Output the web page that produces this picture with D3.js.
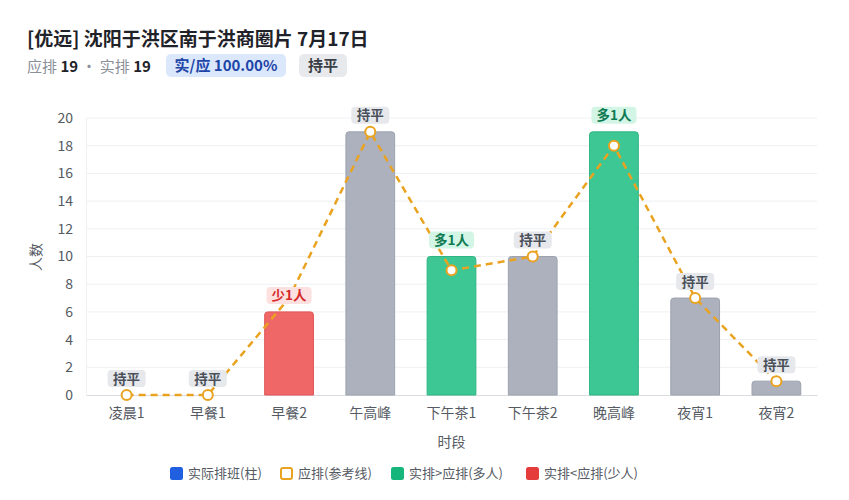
<!DOCTYPE html>
<html><head><meta charset="utf-8">
<script src="https://cdn.jsdelivr.net/npm/d3@7"></script>
<style>
body{margin:0;background:#fff;font-family:"Noto Sans CJK SC","Noto Sans",sans-serif;}
</style></head>
<body><svg id="c" width="849" height="500"></svg>
<script>
const categories = ["凌晨1","早餐1","早餐2","午高峰","下午茶1","下午茶2","晚高峰","夜宵1","夜宵2"];
const actual = [0,0,6,19,10,10,19,7,1];
const planned = [0,0,7,19,9,10,18,7,1];
const yTicks = [0,2,4,6,8,10,12,14,16,18,20];
const legendItems = ["实际排班(柱)","应排(参考线)","实排>应排(多人)","实排<应排(少人)"];
const summaryPlanned = 19;
const summaryActual = 19;

const svg = d3.select("#c");
const F = '"Noto Sans CJK SC","Noto Sans",sans-serif';
const m = {l:86, r:817, t:118, b:395};
const x = d3.scaleBand().domain(categories).range([m.l, m.r]).paddingInner(0.4).paddingOuter(0.2);
const y = d3.scaleLinear().domain([0,20]).range([m.b, m.t]);

// title
svg.append("text").attr("x",27).attr("y",46).attr("font-family",F).attr("font-size",19).attr("font-weight",700).attr("fill","#1f2329").text("[优远] 沈阳于洪区南于洪商圈片 7月17日");
const sub = svg.append("text").attr("x",27).attr("y",72).attr("font-family",F).attr("font-size",15);
sub.append("tspan").attr("fill","#8a8f99").text("应排 ");
sub.append("tspan").attr("fill","#1f2329").attr("font-weight",700).text(summaryPlanned);
sub.append("tspan").attr("fill","#8a8f99").text(" · 实排 ");
sub.append("tspan").attr("fill","#1f2329").attr("font-weight",700).text(summaryActual);
const ratio = (summaryActual/summaryPlanned*100).toFixed(2);
svg.append("rect").attr("x",166).attr("y",54).attr("width",120).attr("height",23).attr("rx",5).attr("fill","#dbe8fb");
svg.append("text").attr("x",226).attr("y",71).attr("text-anchor","middle").attr("font-family",F).attr("font-size",15).attr("font-weight",700).attr("fill","#1e45a8").text("实/应 "+ratio+"%");
svg.append("rect").attr("x",299).attr("y",54).attr("width",48).attr("height",23).attr("rx",5).attr("fill","#e8e9ec");
svg.append("text").attr("x",323).attr("y",71).attr("text-anchor","middle").attr("font-family",F).attr("font-size",15).attr("font-weight",700).attr("fill","#3a3f47").text("持平");

// grid
svg.append("g").selectAll("line").data(yTicks.slice(1)).join("line")
  .attr("x1",m.l).attr("x2",m.r).attr("y1",d=>y(d)).attr("y2",d=>y(d)).attr("stroke","#eef0f3").attr("stroke-width",1);
svg.append("line").attr("x1",m.l+0.5).attr("x2",m.l+0.5).attr("y1",m.t).attr("y2",m.b).attr("stroke","#eef0f3");

// y axis
const ya = svg.append("g").attr("transform",`translate(${m.l},0)`).call(d3.axisLeft(y).tickValues(yTicks).tickSize(0).tickPadding(13));
ya.select(".domain").remove();
ya.selectAll("text").attr("font-family",F).attr("font-size",14).attr("fill","#555a63");
svg.append("text").attr("transform","translate(41,257) rotate(-90)").attr("text-anchor","middle").attr("font-family",F).attr("font-size",14).attr("fill","#555a63").text("人数");

// x axis
const xa = svg.append("g").attr("transform",`translate(0,${m.b})`).call(d3.axisBottom(x).tickSize(0).tickPadding(13));
xa.select(".domain").attr("stroke","#d9dce1");
xa.selectAll("text").attr("font-family",F).attr("font-size",14).attr("fill","#555a63");
svg.append("text").attr("x",(m.l+m.r)/2).attr("y",447).attr("text-anchor","middle").attr("font-family",F).attr("font-size",14).attr("fill","#555a63").text("时段");

const color = (i)=> actual[i]>planned[i] ? "#3cc794" : actual[i]<planned[i] ? "#f06767" : "#acb1bd";
const stroke = (i)=> actual[i]>planned[i] ? "#2fb583" : actual[i]<planned[i] ? "#e05555" : "#9ca2ae";

// bars with rounded top
const bw = x.bandwidth(), r = 3;
svg.append("g").selectAll("path").data(categories).join("path")
  .attr("d",(c,i)=>{
    const x0 = x(c), x1 = x0+bw, yt = y(actual[i]), yb = y(0);
    if (actual[i]===0) return "";
    return `M${x0},${yb}V${yt+r}Q${x0},${yt} ${x0+r},${yt}H${x1-r}Q${x1},${yt} ${x1},${yt+r}V${yb}Z`;
  })
  .attr("fill",(c,i)=>color(i)).attr("stroke",(c,i)=>stroke(i)).attr("stroke-width",1);

// planned line
const cx = c => x(c)+bw/2;
svg.append("path").datum(planned).attr("fill","none").attr("stroke","#e9a320").attr("stroke-width",2.5).attr("stroke-dasharray","7,5")
  .attr("d", d3.line().x((d,i)=>cx(categories[i])).y(d=>y(d)));
svg.append("g").selectAll("circle").data(planned).join("circle")
  .attr("cx",(d,i)=>cx(categories[i])).attr("cy",d=>y(d)).attr("r",5)
  .attr("fill","#fff").attr("stroke","#e9a320").attr("stroke-width",2);

// labels
const lbl = svg.append("g");
categories.forEach((c,i)=>{
  const diff = actual[i]-planned[i];
  const txt = diff>0 ? `多${diff}人` : diff<0 ? `少${-diff}人` : "持平";
  const bg = diff>0 ? "#d3f5e6" : diff<0 ? "#fde0e0" : "#e6e8ec";
  const fg = diff>0 ? "#0e7a52" : diff<0 ? "#d52a2a" : "#4a505a";
  const ly = y(actual[i]) - 16.5;
  const w = diff===0 ? 38 : 45;
  lbl.append("rect").attr("x",cx(c)-w/2).attr("y",ly-8.5).attr("width",w).attr("height",17).attr("rx",4).attr("fill",bg);
  lbl.append("text").attr("x",cx(c)).attr("y",ly+5).attr("text-anchor","middle").attr("font-family",F).attr("font-size",13.5).attr("font-weight",700).attr("fill",fg).text(txt);
});

// legend
const lg = svg.append("g");
const lx = [170, 280, 391, 526];
const lcol = ["#1f5fe0", null, "#15b57c", "#e53b3b"];
legendItems.forEach((t,i)=>{
  if (lcol[i]) lg.append("rect").attr("x",lx[i]).attr("y",467).attr("width",13).attr("height",13).attr("rx",2.5).attr("fill",lcol[i]);
  else lg.append("rect").attr("x",lx[i]+1).attr("y",468).attr("width",11).attr("height",11).attr("rx",2).attr("fill","#fff").attr("stroke","#e9a320").attr("stroke-width",2);
  lg.append("text").attr("x",lx[i]+18).attr("y",478).attr("font-family",F).attr("font-size",13).attr("fill","#555a63").text(t);
});
</script></body></html>
